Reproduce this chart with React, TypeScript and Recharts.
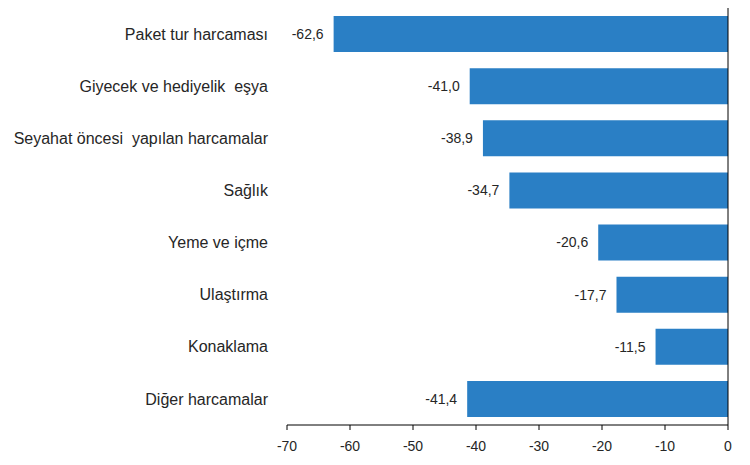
import { Bar, BarChart, LabelList, ReferenceLine, XAxis, YAxis } from "recharts";

const CATEGORIES = [
  "Paket tur harcaması",
  "Giyecek ve hediyelik  eşya",
  "Seyahat öncesi  yapılan harcamalar",
  "Sağlık",
  "Yeme ve içme",
  "Ulaştırma",
  "Konaklama",
  "Diğer harcamalar",
];

const VALUES = [-62.6, -41.0, -38.9, -34.7, -20.6, -17.7, -11.5, -41.4];

const X_TICKS = [-70, -60, -50, -40, -30, -20, -10, 0];

const data = CATEGORIES.map((name, i) => ({ name, value: VALUES[i] }));

const FONT = "'Liberation Sans', Arial, sans-serif";
const TEXT = "#262626";

function CategoryTick(props: any) {
  const { x, y, payload } = props;
  return (
    <text x={x} y={y} dy="0.35em" textAnchor="end" fontSize={16} fontFamily={FONT} fill={TEXT} style={{ whiteSpace: "pre" }}>
      {payload.value}
    </text>
  );
}

function ValueLabel(props: any) {
  const { x, y, width, height, value } = props;
  const left = Math.min(x, x + width);
  return (
    <text x={left - 10} y={y + height / 2} dy="0.35em" textAnchor="end" fontSize={14} fontFamily={FONT} fill={TEXT}>
      {Number(value).toFixed(1).replace(".", ",")}
    </text>
  );
}

export default function App() {
  return (
    <div style={{ position: "absolute", left: 0, top: 0, background: "#fff" }}>
      <BarChart
        width={750}
        height={465}
        data={data}
        layout="vertical"
        margin={{ top: 8, right: 22, bottom: 0, left: 0 }}
      >
        <XAxis
          type="number"
          domain={[-70, 0]}
          ticks={X_TICKS}
          height={40}
          axisLine={{ stroke: "#000" }}
          tickLine={{ stroke: "#000" }}
          tickSize={5}
          tickMargin={11}
          tick={{ fontSize: 14, fontFamily: FONT, fill: TEXT }}
        />
        <YAxis
          type="category"
          dataKey="name"
          width={287}
          axisLine={false}
          tickLine={false}
          tickSize={0}
          tickMargin={19}
          tick={<CategoryTick />}
          interval={0}
        />
        <ReferenceLine x={0} stroke="#000" />
        <Bar dataKey="value" fill="#2a7fc5" barSize={36} isAnimationActive={false}>
          <LabelList dataKey="value" content={<ValueLabel />} />
        </Bar>
      </BarChart>
    </div>
  );
}
